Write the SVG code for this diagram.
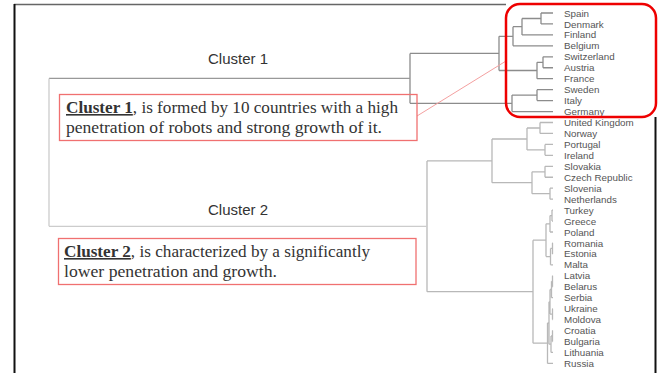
<svg xmlns="http://www.w3.org/2000/svg" width="658" height="373" viewBox="0 0 658 373">
<style>
.leaf{font-family:"Liberation Sans",Arial,sans-serif;font-size:9.8px;fill:#555}
.c1{fill:none;stroke:#8c8c8c;stroke-width:1.3}
.c2{fill:none;stroke:#b8b8b8;stroke-width:1.3}
.ttl{font-family:"Liberation Sans",Arial,sans-serif;font-size:14px;fill:#333}
.note{font-family:"Liberation Serif","Times New Roman",serif;font-size:16px;fill:#333}
.b{font-weight:bold;text-decoration:underline}
.box{fill:none;stroke:#f07070;stroke-width:1.3}
</style>
<rect width="658" height="373" fill="#fff"/>
<g id="frame">
<line x1="14" y1="4.5" x2="506" y2="4.5" stroke="#666" stroke-width="1.5"/>
<line x1="14.5" y1="4" x2="14.5" y2="373" stroke="#111" stroke-width="2"/>
<line x1="655.5" y1="117" x2="655.5" y2="373" stroke="#111" stroke-width="2"/>
</g>
<g id="connectors">
<path class="c1" d="M541 13H553M541 23.95H553M541 13V23.95M522 34.9H553M522 18.5H541M522 18.5V34.9M513 45.85H553M513 26.7H522M513 26.7V45.85M499 36.3H513M543 56.8H553M543 67.75H553M543 56.8V67.75M537 78.7H553M537 62.3H543M537 62.3V78.7M499 70.5H537M499 36.3V70.5M410 53.4H499M537 89.65H553M537 100.6H553M537 89.65V100.6M512 111.55H553M512 95.1H537M512 95.1V111.55M410 103.3H512M410 53.4V103.3"/>
<path d="M49 78.4H410" fill="none" stroke="#999" stroke-width="1.3"/>
<path class="c2" d="M540 122.5H553M540 133.45H553M540 122.5V133.45M545 144.4H553M545 155.35H553M545 144.4V155.35M527 128H540M527 149.9H545M527 128V149.9M545 166.3H553M545 177.25H553M545 166.3V177.25M550 188.2H553M550 199.15H553M550 188.2V199.15M532 171.8H545M532 193.7H550M532 171.8V193.7M492 139H527M492 182.7H532M492 139V182.7M427 160.9H492"/>
<path class="c2" d="M552 210.1H553M552 221.05H553M552 210.1V221.05M550 232H553M550 215.6H552M550 215.6V232M552.5 242.95H553M552.5 253.9H553M552.5 242.95V253.9M550.5 264.85H553M550.5 248.4H552.5M550.5 248.4V264.85M546 223.8H550M546 256.6H550.5M546 223.8V256.6"/>
<path class="c2" d="M552.5 275.8H553M552.5 286.75H553M552.5 275.8V286.75M551.5 297.7H553M551.5 281.3H552.5M551.5 281.3V297.7M552.5 308.65H553M552.5 319.6H553M552.5 308.65V319.6M550 289.5H551.5M550 314.1H552.5M550 289.5V314.1M552.5 330.55H553M552.5 341.5H553M552.5 330.55V341.5M551 352.45H553M551 336H552.5M551 336V352.45M549 301.8H550M549 344.2H551M549 301.8V344.2M547.5 363.4H553M547.5 323H549M547.5 323V363.4M533 240.2H546M533 343.2H547.5M533 240.2V343.2M427 291.7H533M427 160.9V291.7"/>
<path d="M49 226.3H427M49 78.4V226.3" fill="none" stroke="#ccc" stroke-width="1.3"/>
<line x1="417" y1="116" x2="506" y2="61" stroke="#f4a0a0" stroke-width="1"/>
</g>
<g id="cluster1-label"><text class="ttl" x="208" y="64" textLength="60" lengthAdjust="spacingAndGlyphs">Cluster 1</text></g>
<g id="cluster2-label"><text class="ttl" x="208" y="215" textLength="60" lengthAdjust="spacingAndGlyphs">Cluster 2</text></g>
<g id="note1">
<rect class="box" x="59.5" y="94.5" width="357.5" height="46"/>
<text class="note" x="66" y="113" textLength="332" lengthAdjust="spacingAndGlyphs"><tspan class="b">Cluster 1</tspan>, is formed by 10 countries with a high</text>
<text class="note" x="66" y="133" textLength="316" lengthAdjust="spacingAndGlyphs">penetration of robots and strong growth of it.</text>
</g>
<g id="note2">
<rect class="box" x="58.5" y="238.5" width="357.5" height="46"/>
<text class="note" x="64" y="257" textLength="306" lengthAdjust="spacingAndGlyphs"><tspan class="b">Cluster 2</tspan>, is characterized by a significantly</text>
<text class="note" x="64" y="277" textLength="213" lengthAdjust="spacingAndGlyphs">lower penetration and growth.</text>
</g>
<g id="leaves">
<g id="n-spain"><text class="leaf" x="564" y="16.5">Spain</text></g>
<g id="n-denmark"><text class="leaf" x="564" y="27.5">Denmark</text></g>
<g id="n-finland"><text class="leaf" x="564" y="38.4">Finland</text></g>
<g id="n-belgium"><text class="leaf" x="564" y="49.4">Belgium</text></g>
<g id="n-switzerland"><text class="leaf" x="564" y="60.3">Switzerland</text></g>
<g id="n-austria"><text class="leaf" x="564" y="71.3">Austria</text></g>
<g id="n-france"><text class="leaf" x="564" y="82.2">France</text></g>
<g id="n-sweden"><text class="leaf" x="564" y="93.2">Sweden</text></g>
<g id="n-italy"><text class="leaf" x="564" y="104.1">Italy</text></g>
<g id="n-germany"><text class="leaf" x="564" y="115.1">Germany</text></g>
<g id="n-uk"><text class="leaf" x="564" y="126">United Kingdom</text></g>
<g id="n-norway"><text class="leaf" x="564" y="137">Norway</text></g>
<g id="n-portugal"><text class="leaf" x="564" y="147.9">Portugal</text></g>
<g id="n-ireland"><text class="leaf" x="564" y="158.9">Ireland</text></g>
<g id="n-slovakia"><text class="leaf" x="564" y="169.8">Slovakia</text></g>
<g id="n-czech"><text class="leaf" x="564" y="180.8">Czech Republic</text></g>
<g id="n-slovenia"><text class="leaf" x="564" y="191.7">Slovenia</text></g>
<g id="n-netherlands"><text class="leaf" x="564" y="202.7">Netherlands</text></g>
<g id="n-turkey"><text class="leaf" x="564" y="213.6">Turkey</text></g>
<g id="n-greece"><text class="leaf" x="564" y="224.6">Greece</text></g>
<g id="n-poland"><text class="leaf" x="564" y="235.5">Poland</text></g>
<g id="n-romania"><text class="leaf" x="564" y="246.5">Romania</text></g>
<g id="n-estonia"><text class="leaf" x="564" y="257.4">Estonia</text></g>
<g id="n-malta"><text class="leaf" x="564" y="268.4">Malta</text></g>
<g id="n-latvia"><text class="leaf" x="564" y="279.3">Latvia</text></g>
<g id="n-belarus"><text class="leaf" x="564" y="290.3">Belarus</text></g>
<g id="n-serbia"><text class="leaf" x="564" y="301.2">Serbia</text></g>
<g id="n-ukraine"><text class="leaf" x="564" y="312.2">Ukraine</text></g>
<g id="n-moldova"><text class="leaf" x="564" y="323.1">Moldova</text></g>
<g id="n-croatia"><text class="leaf" x="564" y="334.1">Croatia</text></g>
<g id="n-bulgaria"><text class="leaf" x="564" y="345">Bulgaria</text></g>
<g id="n-lithuania"><text class="leaf" x="564" y="356">Lithuania</text></g>
<g id="n-russia"><text class="leaf" x="564" y="366.9">Russia</text></g>
</g>
<g id="highlight"><rect x="506" y="4" width="150" height="113" rx="14" fill="none" stroke="#e00" stroke-width="2.5"/></g>
</svg>
